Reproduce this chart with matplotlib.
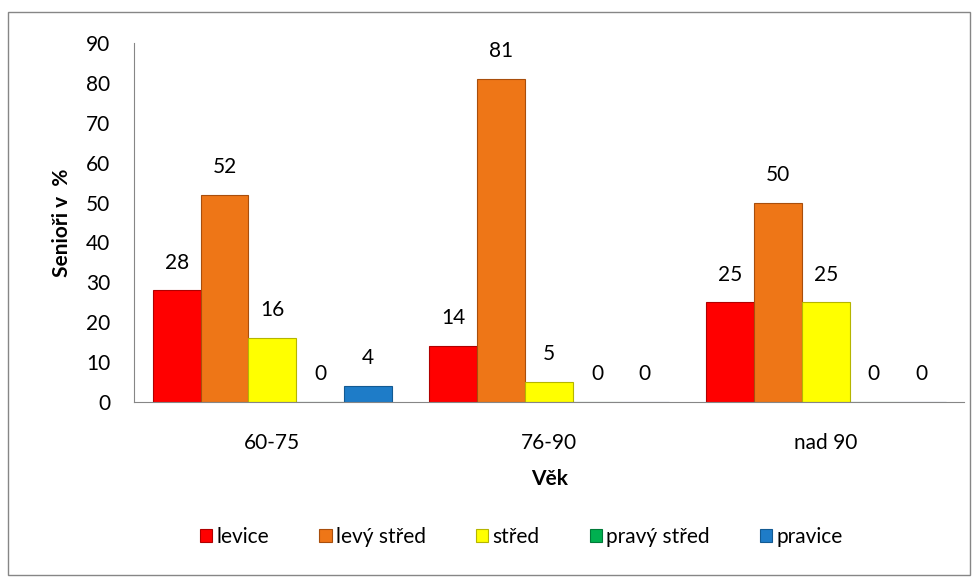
import matplotlib.pyplot as plt
import numpy as np
from matplotlib.patches import Rectangle

plt.rcParams['font.family'] = ['Lato', 'DejaVu Sans']

vek = ['60-75', '76-90', 'nad 90']
serie = ['levice', 'levý střed', 'střed', 'pravý střed', 'pravice']
levice = [28, 14, 25]
levy_stred = [52, 81, 50]
stred = [16, 5, 25]
pravy_stred = [0, 0, 0]
pravice = [4, 0, 0]

hodnoty = [levice, levy_stred, stred, pravy_stred, pravice]
barvy = ['#FF0000', '#EE7617', '#FFFF00', '#00B050', '#1E7CC8']
okraje = ['#B00000', '#A84E0C', '#B5B500', '#007A38', '#135A92']

fs = 15

fig = plt.figure(figsize=(9.78, 5.81), dpi=100)
ax = fig.add_axes([0.137, 0.308, 0.849, 0.618])

x = np.arange(len(vek))
w = 0.173
for i in range(len(serie)):
	pos = x + (i - 2) * w
	ax.bar(pos, hodnoty[i], w, color=barvy[i], edgecolor=okraje[i], linewidth=0.8, label=serie[i])
	for px, v in zip(pos, hodnoty[i]):
		ax.annotate(str(v), (px, v), xytext=(0, 20), textcoords='offset points',
			ha='center', va='center', fontsize=fs)

ax.set_xlim(-0.5, 2.5)
ax.set_ylim(0, 90)
ax.set_yticks(range(0, 91, 10))
ax.set_xticks(x)
ax.set_xticklabels(vek)
ax.tick_params(axis='both', length=0, labelsize=fs)
ax.tick_params(axis='y', pad=17)
ax.tick_params(axis='x', pad=22)
for s in ['top', 'right']:
	ax.spines[s].set_visible(False)
ax.spines['left'].set_color('#868686')
ax.spines['bottom'].set_color('#868686')

ax.set_ylabel('Senioři v  %', fontsize=fs, fontweight='bold', labelpad=10)
ax.set_xlabel('Věk', fontsize=fs, fontweight='bold', labelpad=12)

fig.legend(loc='center', bbox_to_anchor=(0.533, 0.076), ncol=5, frameon=False,
	fontsize=fs, handlelength=0.6, handleheight=0.6, handletextpad=0.2, columnspacing=2.4)

# ramecek kolem grafu
fig.patches.append(Rectangle((8/978, 6/581), 962/978, 563/581, transform=fig.transFigure,
	fill=False, edgecolor='#868686', linewidth=1))

fig.savefig('out.png', dpi=100)
